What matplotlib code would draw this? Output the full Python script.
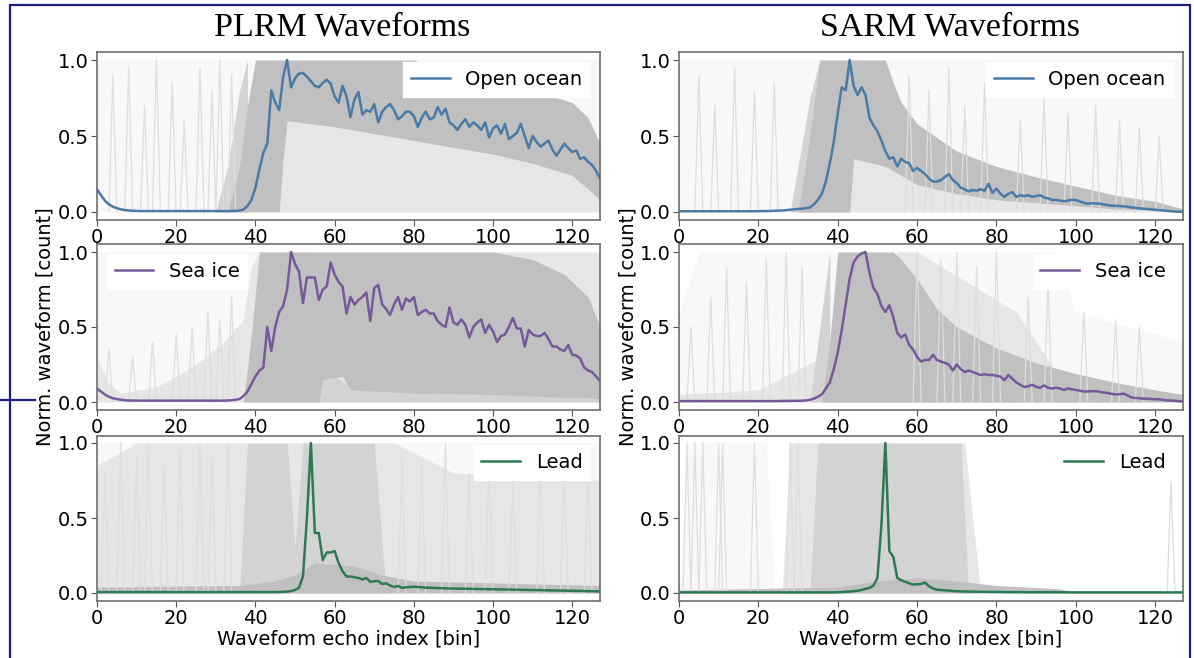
import numpy as np
import matplotlib
matplotlib.use('Agg')
import matplotlib.pyplot as plt
from matplotlib.patches import Rectangle
from matplotlib.lines import Line2D

bins = np.arange(128)

# mean waveforms (bins 0..127)
plrm_ocean = [
    0.15, 0.11, 0.075, 0.05, 0.035, 0.025, 0.018, 0.013, 0.010, 0.008,
    0.007, 0.006, 0.006, 0.006, 0.006, 0.006, 0.006, 0.006, 0.006, 0.006,
    0.006, 0.006, 0.006, 0.006, 0.006, 0.006, 0.006, 0.006, 0.006, 0.006,
    0.006, 0.006, 0.006, 0.006, 0.007, 0.008, 0.010, 0.016, 0.040, 0.080,
    0.16, 0.28, 0.39, 0.45, 0.80, 0.72, 0.67, 0.89, 1.00, 0.82,
    0.88, 0.91, 0.915, 0.89, 0.86, 0.83, 0.82, 0.85, 0.87, 0.845,
    0.76, 0.72, 0.83, 0.76, 0.625, 0.74, 0.79, 0.64, 0.67, 0.66,
    0.71, 0.59, 0.66, 0.69, 0.71, 0.67, 0.61, 0.63, 0.66, 0.66,
    0.63, 0.56, 0.62, 0.66, 0.61, 0.62, 0.69, 0.64, 0.68, 0.59,
    0.57, 0.54, 0.58, 0.61, 0.56, 0.59, 0.57, 0.54, 0.59, 0.49,
    0.55, 0.57, 0.515, 0.58, 0.48, 0.50, 0.52, 0.58, 0.50, 0.42,
    0.50, 0.46, 0.43, 0.45, 0.47, 0.41, 0.37, 0.41, 0.45, 0.42,
    0.395, 0.405, 0.35, 0.36, 0.33, 0.31, 0.27, 0.22]

plrm_seaice = [
    0.09, 0.07, 0.05, 0.035, 0.025, 0.02, 0.015, 0.012, 0.010, 0.010,
    0.009, 0.009, 0.009, 0.009, 0.009, 0.009, 0.009, 0.009, 0.009, 0.009,
    0.009, 0.009, 0.009, 0.009, 0.009, 0.009, 0.009, 0.009, 0.009, 0.009,
    0.009, 0.009, 0.009, 0.010, 0.012, 0.015, 0.020, 0.040, 0.070, 0.12,
    0.17, 0.21, 0.23, 0.50, 0.34, 0.50, 0.60, 0.64, 0.75, 1.00,
    0.92, 0.87, 0.66, 0.83, 0.83, 0.83, 0.68, 0.75, 0.77, 0.93,
    0.85, 0.80, 0.77, 0.59, 0.70, 0.65, 0.68, 0.70, 0.73, 0.54,
    0.76, 0.78, 0.65, 0.62, 0.58, 0.65, 0.70, 0.615, 0.69, 0.67,
    0.70, 0.58, 0.60, 0.615, 0.59, 0.59, 0.54, 0.515, 0.50, 0.63,
    0.53, 0.515, 0.55, 0.515, 0.43, 0.50, 0.53, 0.55, 0.46, 0.515,
    0.47, 0.40, 0.44, 0.45, 0.50, 0.56, 0.49, 0.49, 0.37, 0.48,
    0.45, 0.44, 0.44, 0.46, 0.42, 0.37, 0.37, 0.35, 0.34, 0.38,
    0.315, 0.31, 0.29, 0.23, 0.21, 0.20, 0.17, 0.14]

plrm_lead = [
    0.006, 0.006, 0.006, 0.006, 0.006, 0.006, 0.006, 0.006, 0.006, 0.006,
    0.006, 0.006, 0.006, 0.006, 0.006, 0.006, 0.006, 0.006, 0.006, 0.006,
    0.006, 0.006, 0.006, 0.006, 0.006, 0.006, 0.006, 0.006, 0.006, 0.006,
    0.006, 0.006, 0.006, 0.006, 0.006, 0.006, 0.006, 0.006, 0.006, 0.006,
    0.006, 0.006, 0.006, 0.006, 0.006, 0.006, 0.007, 0.008, 0.010, 0.013,
    0.020, 0.035, 0.11, 0.50, 1.00, 0.40, 0.40, 0.22, 0.27, 0.27,
    0.28, 0.20, 0.145, 0.11, 0.11, 0.105, 0.10, 0.09, 0.10, 0.075,
    0.078, 0.08, 0.06, 0.065, 0.05, 0.04, 0.047, 0.034, 0.038, 0.04,
    0.042, 0.04, 0.038, 0.036, 0.035, 0.034, 0.033, 0.032, 0.031, 0.030,
    0.030, 0.029, 0.029, 0.028, 0.028, 0.027, 0.027, 0.026, 0.026, 0.025,
    0.025, 0.024, 0.024, 0.023, 0.023, 0.022, 0.022, 0.021, 0.021, 0.020,
    0.020, 0.019, 0.019, 0.018, 0.018, 0.017, 0.017, 0.016, 0.016, 0.015,
    0.015, 0.014, 0.014, 0.013, 0.012, 0.012, 0.011, 0.010]

sarm_ocean = [
    0.005, 0.005, 0.005, 0.005, 0.005, 0.005, 0.005, 0.005, 0.005, 0.005,
    0.005, 0.005, 0.005, 0.005, 0.005, 0.005, 0.005, 0.005, 0.005, 0.005,
    0.005, 0.006, 0.006, 0.007, 0.008, 0.009, 0.010, 0.012, 0.015, 0.017,
    0.020, 0.022, 0.025, 0.030, 0.050, 0.080, 0.12, 0.20, 0.32, 0.46,
    0.65, 0.82, 0.80, 1.00, 0.83, 0.77, 0.82, 0.77, 0.62, 0.57,
    0.53, 0.47, 0.40, 0.35, 0.36, 0.30, 0.35, 0.33, 0.32, 0.27,
    0.29, 0.27, 0.25, 0.22, 0.20, 0.20, 0.21, 0.23, 0.25, 0.21,
    0.19, 0.16, 0.15, 0.135, 0.145, 0.14, 0.15, 0.14, 0.185, 0.125,
    0.155, 0.12, 0.10, 0.12, 0.13, 0.10, 0.11, 0.105, 0.11, 0.10,
    0.105, 0.11, 0.095, 0.09, 0.08, 0.08, 0.075, 0.07, 0.075, 0.08,
    0.078, 0.07, 0.06, 0.055, 0.058, 0.056, 0.055, 0.05, 0.045, 0.042,
    0.04, 0.04, 0.037, 0.035, 0.03, 0.028, 0.024, 0.022, 0.02, 0.018,
    0.015, 0.012, 0.010, 0.008, 0.005, 0.003, 0.002, 0.001]

sarm_seaice = [
    0.006, 0.006, 0.006, 0.006, 0.006, 0.006, 0.006, 0.006, 0.006, 0.006,
    0.006, 0.006, 0.006, 0.006, 0.006, 0.006, 0.006, 0.006, 0.006, 0.006,
    0.006, 0.006, 0.006, 0.006, 0.006, 0.006, 0.007, 0.007, 0.007, 0.008,
    0.008, 0.009, 0.010, 0.015, 0.022, 0.035, 0.05, 0.09, 0.13, 0.22,
    0.33, 0.48, 0.65, 0.82, 0.93, 0.97, 0.99, 1.00, 0.86, 0.76,
    0.72, 0.64, 0.60, 0.645, 0.565, 0.46, 0.43, 0.45, 0.38, 0.35,
    0.30, 0.27, 0.28, 0.28, 0.315, 0.28, 0.27, 0.26, 0.25, 0.21,
    0.25, 0.22, 0.20, 0.21, 0.20, 0.19, 0.18, 0.185, 0.18, 0.18,
    0.175, 0.17, 0.145, 0.18, 0.155, 0.13, 0.115, 0.10, 0.105, 0.115,
    0.10, 0.095, 0.11, 0.095, 0.09, 0.095, 0.09, 0.08, 0.09, 0.085,
    0.08, 0.075, 0.07, 0.07, 0.072, 0.072, 0.068, 0.063, 0.06, 0.055,
    0.05, 0.052, 0.056, 0.045, 0.03, 0.027, 0.025, 0.022, 0.022, 0.02,
    0.018, 0.018, 0.014, 0.011, 0.010, 0.008, 0.005, 0.005]

sarm_lead = [
    0.004, 0.004, 0.004, 0.004, 0.004, 0.004, 0.004, 0.004, 0.004, 0.004,
    0.004, 0.004, 0.004, 0.004, 0.004, 0.004, 0.004, 0.004, 0.004, 0.004,
    0.004, 0.004, 0.004, 0.004, 0.004, 0.004, 0.004, 0.004, 0.004, 0.004,
    0.004, 0.004, 0.004, 0.004, 0.004, 0.004, 0.004, 0.004, 0.004, 0.004,
    0.005, 0.006, 0.008, 0.010, 0.012, 0.015, 0.020, 0.028, 0.034, 0.050,
    0.10, 0.45, 1.00, 0.28, 0.24, 0.10, 0.085, 0.075, 0.065, 0.056,
    0.058, 0.06, 0.07, 0.045, 0.03, 0.022, 0.02, 0.018, 0.016, 0.013,
    0.012, 0.011, 0.010, 0.010, 0.009, 0.009, 0.008, 0.008, 0.007, 0.007,
    0.007, 0.007, 0.006, 0.006, 0.006, 0.006, 0.006, 0.005, 0.005, 0.005,
    0.005, 0.005, 0.005, 0.005, 0.005, 0.005, 0.005, 0.005, 0.004, 0.004,
    0.004, 0.004, 0.004, 0.004, 0.004, 0.004, 0.004, 0.004, 0.004, 0.004,
    0.004, 0.004, 0.004, 0.004, 0.004, 0.004, 0.004, 0.004, 0.004, 0.004,
    0.004, 0.004, 0.004, 0.004, 0.004, 0.004, 0.004, 0.004]

# envelopes of the grey single waveforms: (bins, lower, upper)
# tiers go from sparse (faint) to densely overlapping (dense)
plrm_ocean_faint = ([0, 127], [0, 0], [1, 1])
plrm_ocean_light = ([46, 48, 60, 80, 100, 110, 120, 124, 127],
                    [0, 0, 0, 0, 0, 0, 0, 0, 0],
                    [0.35, 0.6, 0.56, 0.47, 0.38, 0.32, 0.24, 0.15, 0.08])
plrm_ocean_mid = ([30, 33, 36, 38], [0, 0, 0, 0], [0, 0.3, 0.8, 1.0])
plrm_ocean_dense = ([33, 36, 38, 40, 46, 47, 48, 60, 80, 100, 110, 120, 124, 127],
                    [0, 0, 0, 0, 0, 0.35, 0.6, 0.56, 0.47, 0.38, 0.32, 0.24, 0.15, 0.08],
                    [0, 0.3, 0.7, 1.0, 1.0, 1.0, 1.0, 1.0, 1.0, 0.85, 0.8, 0.72, 0.62, 0.45])

plrm_seaice_faint = ([0, 127], [0, 0], [1, 1])
plrm_seaice_light = ([0, 3, 6, 15, 25, 32, 37, 39, 41, 127],
                     [0, 0, 0, 0, 0, 0, 0, 0, 0, 0],
                     [0.3, 0.12, 0.06, 0.1, 0.25, 0.4, 0.55, 0.9, 1.0, 1.0])
plrm_seaice_mid = ([56, 60, 64, 127], [0, 0, 0, 0], [0.15, 0.17, 0.1, 0.05])
plrm_seaice_dense = ([37, 39, 41, 56, 57, 62, 64, 80, 100, 110, 118, 124, 127],
                     [0, 0, 0, 0, 0.15, 0.17, 0.08, 0.06, 0.05, 0.04, 0.03, 0.03, 0.02],
                     [0, 0.45, 1.0, 1.0, 1.0, 1.0, 1.0, 1.0, 1.0, 0.95, 0.85, 0.7, 0.5])

plrm_lead_faint = ([0, 127], [0, 0], [1, 1])
plrm_lead_light = ([0, 10, 35, 75, 90, 127],
                   [0, 0, 0, 0, 0, 0],
                   [0.85, 1.0, 1.0, 1.0, 0.8, 0.75])
plrm_lead_mid = ([36, 38, 48, 50, 52, 70, 73],
                 [0, 0, 0, 0, 0, 0, 0],
                 [0, 1.0, 1.0, 0.3, 1.0, 1.0, 0])
plrm_lead_dense = ([0, 36, 45, 50, 55, 65, 72, 80, 127],
                   [0, 0, 0, 0, 0, 0, 0, 0, 0],
                   [0.04, 0.05, 0.08, 0.12, 0.2, 0.18, 0.12, 0.08, 0.05])

sarm_ocean_faint = ([0, 127], [0, 0], [1, 1])
sarm_ocean_light = ([30, 44, 52, 60, 80, 100, 127],
                    [0, 0, 0, 0, 0, 0, 0],
                    [0.05, 0.35, 0.3, 0.18, 0.08, 0.04, 0.0])
sarm_ocean_mid = ([28, 30, 33, 35.5], [0, 0, 0, 0], [0, 0.3, 0.75, 1.0])
sarm_ocean_dense = ([30, 33, 35.5, 43, 44, 52, 54, 56, 60, 70, 80, 90, 100, 110, 120, 127],
                    [0, 0, 0, 0, 0.35, 0.3, 0.27, 0.24, 0.18, 0.12, 0.08, 0.06, 0.04, 0.02, 0.01, 0.0],
                    [0, 0.5, 1.0, 1.0, 1.0, 1.0, 0.85, 0.72, 0.58, 0.4, 0.3, 0.23, 0.17, 0.11, 0.07, 0.02])

sarm_seaice_faint = ([0, 5, 95, 100, 127], [0, 0, 0, 0, 0], [0.6, 1.0, 1.0, 0.6, 0.4])
sarm_seaice_light = ([0, 20, 36, 55, 60, 85, 95, 127],
                     [0, 0, 0, 0, 0, 0, 0, 0],
                     [0.05, 0.08, 0.3, 1.0, 1.0, 0.6, 0.2, 0.05])
sarm_seaice_mid = ([33, 36, 38], [0, 0, 0], [0, 0.6, 1.0])
sarm_seaice_dense = ([36, 38, 40, 54, 56, 60, 65, 70, 80, 90, 100, 110, 120, 127],
                     [0, 0, 0, 0, 0, 0, 0, 0, 0, 0, 0, 0, 0, 0],
                     [0, 0.4, 1.0, 1.0, 0.95, 0.82, 0.62, 0.5, 0.36, 0.26, 0.19, 0.13, 0.08, 0.05])

sarm_lead_faint = ([0, 2, 22, 24], [0, 0, 0, 0], [0, 1, 1, 0])
sarm_lead_light = ([26, 28, 72, 76], [0, 0, 0, 0], [0, 1.0, 1.0, 0])
sarm_lead_mid = ([33, 35, 50, 54, 71, 73], [0, 0, 0, 0, 0, 0], [0, 1.0, 1.0, 1.0, 1.0, 0])
sarm_lead_dense = ([0, 40, 50, 60, 70, 80, 95, 100, 127],
                   [0, 0, 0, 0, 0, 0, 0, 0, 0],
                   [0.02, 0.04, 0.08, 0.1, 0.08, 0.05, 0.03, 0.01, 0.01])

# isolated grey echoes that stand out of the cloud: peak bin and height
plrm_ocean_spike_bins = [4, 8, 12, 15, 19, 22, 26, 29, 31, 34]
plrm_ocean_spike_peaks = [0.9, 0.95, 0.7, 1.0, 0.85, 0.6, 0.95, 0.8, 1.0, 0.9]
plrm_seaice_spike_bins = [3, 9, 14, 20, 24, 28, 31, 34]
plrm_seaice_spike_peaks = [0.35, 0.3, 0.4, 0.45, 0.5, 0.6, 0.55, 0.7]
plrm_lead_spike_bins = [2, 6, 10, 13, 17, 21, 26, 29, 33, 77, 82, 88, 94, 99, 105, 112, 118, 124]
plrm_lead_spike_peaks = [0.8, 1.0, 0.9, 1.0, 0.85, 0.95, 1.0, 0.9, 1.0, 0.9, 0.85, 1.0, 0.8, 0.9, 0.75, 0.85, 0.8, 0.75]
sarm_ocean_spike_bins = [5, 9, 14, 19, 24, 58, 63, 68, 72, 77, 86, 92, 98, 105, 111, 116, 121]
sarm_ocean_spike_peaks = [0.9, 0.7, 0.95, 0.8, 0.85, 0.9, 0.8, 0.95, 0.7, 0.85, 0.6, 0.75, 0.65, 0.7, 0.6, 0.55, 0.5]
sarm_seaice_spike_bins = [3, 8, 12, 17, 22, 27, 31, 60, 66, 70, 75, 80, 88, 93, 102, 110, 116]
sarm_seaice_spike_peaks = [0.5, 0.7, 0.9, 0.8, 0.95, 1.0, 0.9, 1.0, 0.95, 1.0, 0.9, 1.0, 0.7, 0.8, 0.6, 0.55, 0.5]
sarm_lead_spike_bins = [2, 4, 6, 10, 11, 19, 28, 30, 124]
sarm_lead_spike_peaks = [1.0, 1.0, 1.0, 1.0, 1.0, 1.0, 1.0, 1.0, 0.75]

labels = ['Open ocean', 'Sea ice', 'Lead']
colors = ['#4a7aa6', '#77599b', '#2c7a52']
legend_loc = [['upper right', 'upper left', 'upper right'],
              ['upper right', 'upper right', 'upper right']]

means = [[plrm_ocean, plrm_seaice, plrm_lead],
         [sarm_ocean, sarm_seaice, sarm_lead]]
bands = [[(plrm_ocean_faint, plrm_ocean_light, plrm_ocean_mid, plrm_ocean_dense),
          (plrm_seaice_faint, plrm_seaice_light, plrm_seaice_mid, plrm_seaice_dense),
          (plrm_lead_faint, plrm_lead_light, plrm_lead_mid, plrm_lead_dense)],
         [(sarm_ocean_faint, sarm_ocean_light, sarm_ocean_mid, sarm_ocean_dense),
          (sarm_seaice_faint, sarm_seaice_light, sarm_seaice_mid, sarm_seaice_dense),
          (sarm_lead_faint, sarm_lead_light, sarm_lead_mid, sarm_lead_dense)]]
spikes = [[(plrm_ocean_spike_bins, plrm_ocean_spike_peaks),
           (plrm_seaice_spike_bins, plrm_seaice_spike_peaks),
           (plrm_lead_spike_bins, plrm_lead_spike_peaks)],
          [(sarm_ocean_spike_bins, sarm_ocean_spike_peaks),
           (sarm_seaice_spike_bins, sarm_seaice_spike_peaks),
           (sarm_lead_spike_bins, sarm_lead_spike_peaks)]]
band_colors = ['#f8f8f8', '#e6e6e6', '#d3d3d3', '#c0c0c0']

W, H = 1194, 658
fig = plt.figure(figsize=(W / 100, H / 100), dpi=100)

col_left = [97, 679]
col_width = [503, 504]
row_top = [52.4, 244.5, 435.5]
row_h = [167.2, 165, 165]
fs = 14

for c in range(2):
    for r in range(3):
        ax = fig.add_axes([col_left[c] / W, 1 - (row_top[r] + row_h[r]) / H,
                           col_width[c] / W, row_h[r] / H])
        for band, bc in zip(bands[c][r], band_colors):
            ax.fill_between(band[0], band[1], band[2], color=bc, lw=0)
        for b, h in zip(*spikes[c][r]):
            ax.plot([b - 1.0, b, b + 1.0], [0, h, 0], color='#dedede', lw=0.9)
        ax.plot(bins, means[c][r], color=colors[r], lw=1.8, label=labels[r])
        ax.set_xlim(0, 127)
        ax.set_ylim(-0.05, 1.05)
        ax.set_xticks([0, 20, 40, 60, 80, 100, 120])
        ax.set_yticks([0.0, 0.5, 1.0])
        ax.tick_params(labelsize=fs, color='#555555', length=4, pad=2)
        for s in ax.spines.values():
            s.set_color('#6e6e6e')
            s.set_linewidth(1.2)
        ax.legend(handles=[ax.lines[-1]], loc=legend_loc[c][r], fontsize=fs,
                  framealpha=1, edgecolor='white', fancybox=False)
        if r == 2:
            ax.set_xlabel('Waveform echo index [bin]', fontsize=fs, labelpad=1)

fig.text(342 / W, 1 - 27 / H, 'PLRM Waveforms', family='Liberation Serif',
         fontsize=24.5, ha='center', va='center')
fig.text(950 / W, 1 - 27 / H, 'SARM Waveforms', family='Liberation Serif',
         fontsize=24.5, ha='center', va='center')
for xl in [45, 628]:
    fig.text(xl / W, 1 - 327 / H, 'Norm. waveform [count]', fontsize=fs,
             rotation=90, ha='center', va='center')

# navy frame of the screenshot
fig.patches.append(Rectangle((10 / W, -0.02), 1180 / W, 1 - 5 / H + 0.02,
                             transform=fig.transFigure, fill=False,
                             edgecolor='#1d1d7a', lw=1.6))
fig.lines.append(Line2D([0, 35 / W], [1 - 400 / H, 1 - 400 / H],
                        transform=fig.transFigure, color='#1d1d7a', lw=1.6))

fig.savefig('out.png', dpi=100)
